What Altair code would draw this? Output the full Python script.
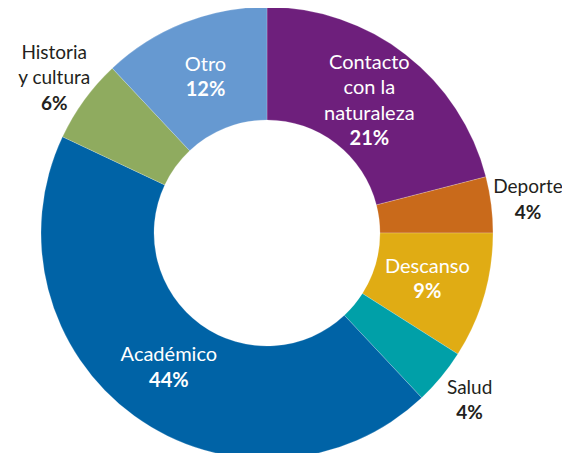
import altair as alt
import pandas as pd

categories = ["Contacto con la naturaleza", "Deporte", "Descanso", "Salud",
              "Académico", "Historia y cultura", "Otro"]
label_lines = ["Contacto\ncon la\nnaturaleza", "Deporte", "Descanso", "Salud",
               "Académico", "Historia\ny cultura", "Otro"]
values = [21, 4, 9, 4, 44, 6, 12]
outside = [False, True, False, True, False, True, False]
colors = ["#6E1F7C", "#C96A1B", "#E0AC14", "#00A0A8", "#0063A6", "#8FAB5F", "#6699D1"]

df = pd.DataFrame({
    "idx": list(range(len(categories))),
    "cat": categories,
    "value": values,
    "outside": outside,
    "name": label_lines,
    "nlines": [l.count("\n") + 2 for l in label_lines],
    "pct": [f"{v}%" for v in values],
})

CX, CY = 259, 225
R_OUT, R_IN = 226, 113
R_MID = 167
R_LAB = 263
LH = 25.5

theta_scale = alt.Scale(domain=[0, sum(values)], range=[0, 6.283185307179586])

base = alt.Chart(df).transform_window(
    cum="sum(value)", sort=[alt.SortField("idx")], frame=[None, 0]
).transform_calculate(
    start="datum.cum - datum.value",
    mid="datum.cum - datum.value / 2",
).encode(
    x=alt.value(CX),
    y=alt.value(CY),
)

arcs = base.mark_arc(outerRadius=R_OUT, innerRadius=R_IN, stroke="white", strokeWidth=0.2).encode(
    theta=alt.Theta("start:Q", scale=theta_scale, stack=False),
    theta2="cum:Q",
    color=alt.Color("cat:N", scale=alt.Scale(domain=categories, range=colors), legend=None),
)

layers = [arcs]
for is_out, r, col, fs in [(False, R_MID, "white", 20), (True, R_LAB, "#231F20", 19)]:
    text_common = dict(fontSize=fs, lineBreak="\n", lineHeight=LH, align="center",
                       baseline="middle", font="Lato")
    for n in sorted(set(df["nlines"])):
        if not any((o == is_out) and (k == n) for o, k in zip(df["outside"], df["nlines"])):
            continue
        cond = ("datum.outside" if is_out else "!datum.outside") + f" && datum.nlines == {n}"
        sub = base.transform_filter(cond).encode(
            theta=alt.Theta("mid:Q", scale=theta_scale, stack=False)
        )
        top = -(n - 1) / 2 * LH
        layers.append(sub.mark_text(radius=r, color=col, dy=top, **text_common)
                      .encode(text="name:N"))
        layers.append(sub.mark_text(radius=r, color=col, fontWeight="bold",
                                    dy=top + (n - 1) * LH, **text_common)
                      .encode(text="pct:N"))

chart = alt.layer(*layers).properties(
    width=554, height=445,
    autosize=alt.AutoSizeParams(type="none"),
    padding=0,
).configure_view(stroke=None)

chart.save("out.html", embed_options={"renderer": "svg", "actions": False})
